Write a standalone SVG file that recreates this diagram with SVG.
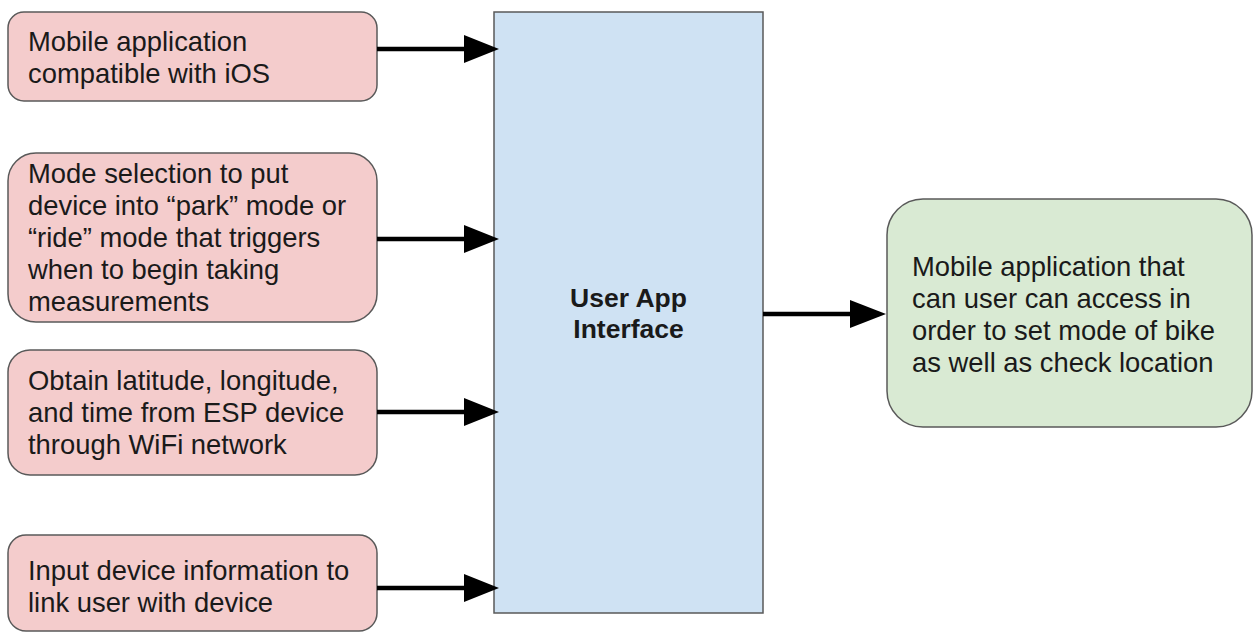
<svg xmlns="http://www.w3.org/2000/svg" width="1253" height="633" viewBox="0 0 1253 633">
<defs>
<style>
.in{fill:#f4cccc;stroke:#595959;stroke-width:1.5}
.out{fill:#d9ead3;stroke:#595959;stroke-width:1.5}
.core{fill:#cfe2f3;stroke:#595959;stroke-width:1.5}
.t{font-family:"Liberation Sans",Arial,sans-serif;font-size:27.4px;fill:#1a1a1a}
.b{font-family:"Liberation Sans",Arial,sans-serif;font-size:26.5px;font-weight:bold;fill:#1a1a1a;text-anchor:middle}
.c{stroke:#000;stroke-width:4.5;fill:none}
.h{fill:#000}
</style>
</defs>
<rect width="1253" height="633" fill="#fff"/>
<g id="node-ios">
<rect class="in" x="8" y="12" width="369" height="89" rx="16"/>
<text class="t" x="28"><tspan x="28" y="51">Mobile application</tspan><tspan x="28" y="83">compatible with iOS</tspan></text>
</g>
<g id="node-mode">
<rect class="in" x="8" y="153" width="369" height="169" rx="28"/>
<text class="t"><tspan x="28" y="183">Mode selection to put</tspan><tspan x="28" y="215">device into “park” mode or</tspan><tspan x="28" y="247">“ride” mode that triggers</tspan><tspan x="28" y="279">when to begin taking</tspan><tspan x="28" y="311">measurements</tspan></text>
</g>
<g id="node-gps">
<rect class="in" x="8" y="350" width="369" height="125" rx="22"/>
<text class="t"><tspan x="28" y="390">Obtain latitude, longitude,</tspan><tspan x="28" y="422">and time from ESP device</tspan><tspan x="28" y="454">through WiFi network</tspan></text>
</g>
<g id="node-input">
<rect class="in" x="8" y="535" width="369" height="96" rx="18"/>
<text class="t"><tspan x="28" y="580">Input device information to</tspan><tspan x="28" y="612">link user with device</tspan></text>
</g>
<g id="node-core">
<rect class="core" x="494" y="12" width="269" height="601"/>
<text class="b"><tspan x="628.5" y="307">User App</tspan><tspan x="628.5" y="338">Interface</tspan></text>
</g>
<g id="node-result">
<rect class="out" x="887" y="199" width="365" height="228" rx="36"/>
<text class="t"><tspan x="912" y="276">Mobile application that</tspan><tspan x="912" y="308">can user can access in</tspan><tspan x="912" y="340">order to set mode of bike</tspan><tspan x="912" y="372">as well as check location</tspan></text>
</g>
<g id="connectors">
<line class="c" x1="377" y1="49" x2="466" y2="49"/>
<polygon class="h" points="464,35 499,49 464,63"/>
<line class="c" x1="377" y1="239" x2="466" y2="239"/>
<polygon class="h" points="464,225 499,239 464,253"/>
<line class="c" x1="377" y1="412" x2="466" y2="412"/>
<polygon class="h" points="464,398 499,412 464,426"/>
<line class="c" x1="377" y1="588" x2="466" y2="588"/>
<polygon class="h" points="464,574 499,588 464,602"/>
<line class="c" x1="763" y1="314" x2="852" y2="314"/>
<polygon class="h" points="850,300 886,314 850,328"/>
</g>
</svg>
